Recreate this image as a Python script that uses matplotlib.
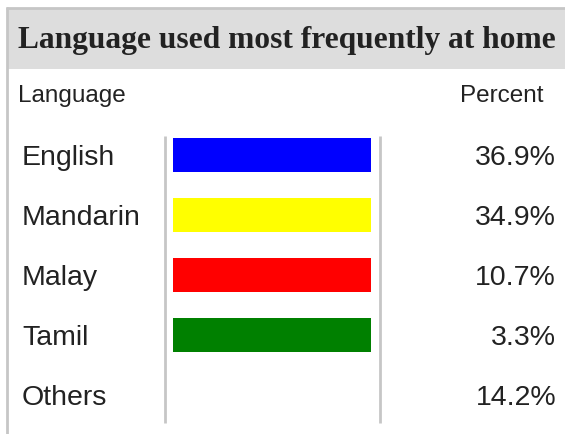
import matplotlib
matplotlib.use('Agg')
import matplotlib.pyplot as plt
from matplotlib.patches import Rectangle

# 数据
title = 'Language used most frequently at home'
languages = ['English', 'Mandarin', 'Malay', 'Tamil', 'Others']
percents = [36.9, 34.9, 10.7, 3.3, 14.2]
colors = ['#0000ff', '#ffff00', '#ff0000', '#008000', None]

W, H = 565, 434
fig = plt.figure(figsize=(W / 100, H / 100), dpi=100)
ax = fig.add_axes([0, 0, 1, 1])
ax.set_xlim(0, W)
ax.set_ylim(H, 0)
ax.axis('off')

border = '#c6c6c6'
txt = '#222222'

# 标题栏
ax.add_patch(Rectangle((7, 8), W - 7, 61, facecolor='#dddddd', edgecolor='none'))
ax.plot([6, W], [7.5, 7.5], color=border, lw=2, solid_capstyle='butt')
ax.plot([6.5, 6.5], [7, H], color=border, lw=2, solid_capstyle='butt')

t = ax.text(287, 48, title, ha='center', va='baseline', fontsize=20,
            fontweight='bold', family='Liberation Serif', color=txt)
fig.canvas.draw()
bb = t.get_window_extent()
t.set_fontsize(20 * 537 / bb.width)

# 表头
ax.text(18, 102, 'Language', ha='left', va='baseline', fontsize=17.5,
        family='Liberation Sans', color=txt)
ax.text(543, 102, 'Percent', ha='right', va='baseline', fontsize=17.5,
        family='Liberation Sans', color=txt)

# 分隔竖线
ax.plot([164.5, 164.5], [136, 423], color=border, lw=2, solid_capstyle='butt')
ax.plot([380, 380], [136, 423], color=border, lw=2, solid_capstyle='butt')

rows = [155 + 60 * i for i in range(len(languages))]
bar_y = [r for r, c in zip(rows, colors) if c]
bar_c = [c for c in colors if c]
ax.barh(bar_y, [198] * len(bar_y), left=173, height=34, color=bar_c)

for y, lang, p in zip(rows, languages, percents):
    ax.text(22, y + 10, lang, ha='left', va='baseline', fontsize=20.5,
            family='Liberation Sans', color=txt)
    ax.text(556, y + 10, '%.1f%%' % p, ha='right', va='baseline', fontsize=20.5,
            family='Liberation Sans', color=txt)

fig.savefig('out.png', dpi=100)
